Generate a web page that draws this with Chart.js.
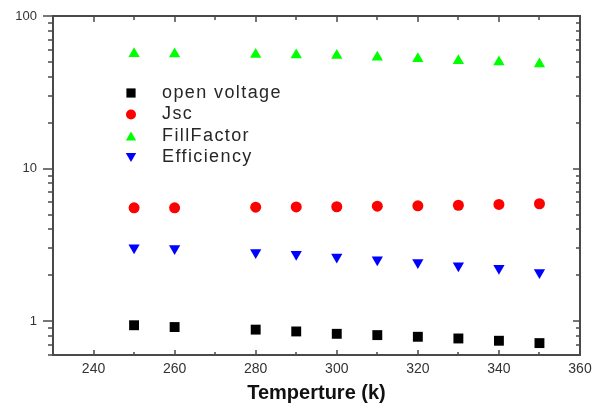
<!DOCTYPE html>
<html>
<head>
<meta charset="utf-8">
<style>
  html, body { margin: 0; padding: 0; background: #fff; }
  #wrap { width: 592px; height: 407px; }
</style>
<script src="https://cdn.jsdelivr.net/npm/chart.js@4/dist/chart.umd.min.js"></script>
</head>
<body>
<div id="wrap"><canvas id="myChart" width="592" height="407"></canvas></div>
<script>
// temperature (K)
var temps = [250, 260, 280, 290, 300, 310, 320, 330, 340, 350];
var openVoltage = [0.94, 0.915, 0.88, 0.856, 0.826, 0.81, 0.79, 0.77, 0.744, 0.718];
var jsc = [5.53, 5.53, 5.58, 5.61, 5.62, 5.67, 5.70, 5.75, 5.82, 5.88];
var fillFactor = [56.5, 56.3, 56.0, 55.5, 55.0, 53.6, 52.4, 50.9, 49.9, 48.4];
var efficiency = [3.03, 2.99, 2.82, 2.74, 2.63, 2.53, 2.42, 2.31, 2.22, 2.08];
var xTicks = [240, 260, 280, 300, 320, 340, 360];
var yTicks = [1, 10, 100];

function pts(ys) {
    return temps.map(function (t, i) { return { x: t, y: ys[i] }; });
}

var FRAME = '#4a4a4a';

// legend drawn inside the plot area, like the original
var innerLegend = {
    id: 'innerLegend',
    afterDraw: function (chart) {
        var ctx = chart.ctx;
        ctx.save();
        ctx.font = '18px "Liberation Sans", Arial, sans-serif';
        ctx.letterSpacing = '1.4px';
        ctx.textBaseline = 'middle';
        chart.data.datasets.forEach(function (ds, i) {
            var y = 93 + i * 21.5;
            ctx.fillStyle = ds.backgroundColor;
            ctx.strokeStyle = ds.backgroundColor;
            Chart.helpers.drawPoint(ctx, {
                pointStyle: ds.pointStyle,
                rotation: ds.rotation || 0,
                radius: ds.pointRadius - 0.5,
                borderWidth: 0
            }, 131, y + (ds.pointStyle === 'triangle' ? (ds.rotation ? -1.5 : 1.5) : 0));
            ctx.fillStyle = '#262626';
            ctx.fillText(ds.label, 162, y);
        });
        ctx.restore();
    }
};

// box frame and tick marks (left out, others in)
var frameTicks = {
    id: 'frameTicks',
    afterDraw: function (chart) {
        var ctx = chart.ctx, a = chart.chartArea;
        var xs = chart.scales.x, ys = chart.scales.y;
        ctx.save();
        ctx.strokeStyle = FRAME;
        ctx.lineWidth = 2;
        ctx.strokeRect(a.left, a.top, a.right - a.left, a.bottom - a.top);
        ctx.lineWidth = 1.5;
        ctx.beginPath();
        for (var v = 240; v <= 350; v += 10) {
            var px = Math.round(xs.getPixelForValue(v));
            var major = v % 20 === 0;
            ctx.moveTo(px, a.bottom);
            ctx.lineTo(px, a.bottom - (major ? 5 : 3));
            ctx.moveTo(px, a.top);
            ctx.lineTo(px, a.top + (major ? 6 : 4));
        }
        [0.1, 1, 10].forEach(function (d) {
            for (var k = 1; k <= 9; k++) {
                var val = k * d;
                if (val < 0.6 || val > 100) continue;
                var py = Math.round(ys.getPixelForValue(val));
                var maj = k === 1;
                ctx.moveTo(a.left, py);
                ctx.lineTo(a.left - (maj ? 10 : 5), py);
                ctx.moveTo(a.right, py);
                ctx.lineTo(a.right - (maj ? 7 : 4), py);
            }
        });
        var top = Math.round(ys.getPixelForValue(100));
        ctx.moveTo(a.left, top);
        ctx.lineTo(a.left - 10, top);
        ctx.stroke();
        ctx.restore();
    }
};

var ctx = document.getElementById('myChart').getContext('2d');
var chart = new Chart(ctx, {
    type: 'scatter',
    data: {
        datasets: [{
            label: 'open voltage',
            data: pts(openVoltage),
            backgroundColor: '#000000',
            borderColor: '#000000',
            pointStyle: 'rect',
            pointRadius: 7
        }, {
            label: 'Jsc',
            data: pts(jsc),
            backgroundColor: '#ff0000',
            borderColor: '#ff0000',
            pointStyle: 'circle',
            pointRadius: 5.5
        }, {
            label: 'FillFactor',
            data: pts(fillFactor),
            backgroundColor: '#00ff00',
            borderColor: '#00ff00',
            pointStyle: 'triangle',
            pointRadius: 6.5
        }, {
            label: 'Efficiency',
            data: pts(efficiency),
            backgroundColor: '#0000ff',
            borderColor: '#0000ff',
            pointStyle: 'triangle',
            rotation: 180,
            pointRadius: 6.5
        }]
    },
    options: {
        responsive: false,
        animation: false,
        layout: { padding: { top: 16, right: 12, left: 0, bottom: 0 } },
        plugins: {
            legend: { display: false },
            tooltip: { enabled: false }
        },
        elements: { point: { borderWidth: 0, hoverRadius: 0 } },
        scales: {
            x: {
                type: 'linear',
                min: 230,
                max: 360,
                afterBuildTicks: function (scale) {
                    scale.ticks = xTicks.map(function (v) { return { value: v }; });
                },
                afterFit: function (scale) {
                    scale.height = 52;
                    scale.paddingLeft = 0;
                    scale.paddingRight = 0;
                },
                grid: { display: false, drawTicks: false },
                border: { display: false },
                ticks: {
                    padding: 6,
                    color: '#333333',
                    font: { family: '"Liberation Sans", Arial, sans-serif', size: 14 }
                },
                title: {
                    display: true,
                    text: 'Temperture (k)',
                    color: '#111111',
                    padding: { top: 0, bottom: 2 },
                    font: { family: '"Liberation Sans", Arial, sans-serif', size: 20, weight: 'bold' }
                }
            },
            y: {
                type: 'logarithmic',
                min: 0.6,
                max: 100,
                afterBuildTicks: function (scale) {
                    scale.ticks = yTicks.map(function (v) { return { value: v }; });
                },
                afterFit: function (scale) {
                    scale.width = 53;
                    scale.paddingTop = 0;
                    scale.paddingBottom = 0;
                },
                grid: { display: false, drawTicks: false },
                border: { display: false },
                ticks: {
                    padding: 16,
                    color: '#333333',
                    font: { family: '"Liberation Sans", Arial, sans-serif', size: 13 },
                    callback: function (v) { return String(v); }
                }
            }
        }
    },
    plugins: [frameTicks, innerLegend]
});
</script>
</body>
</html>
